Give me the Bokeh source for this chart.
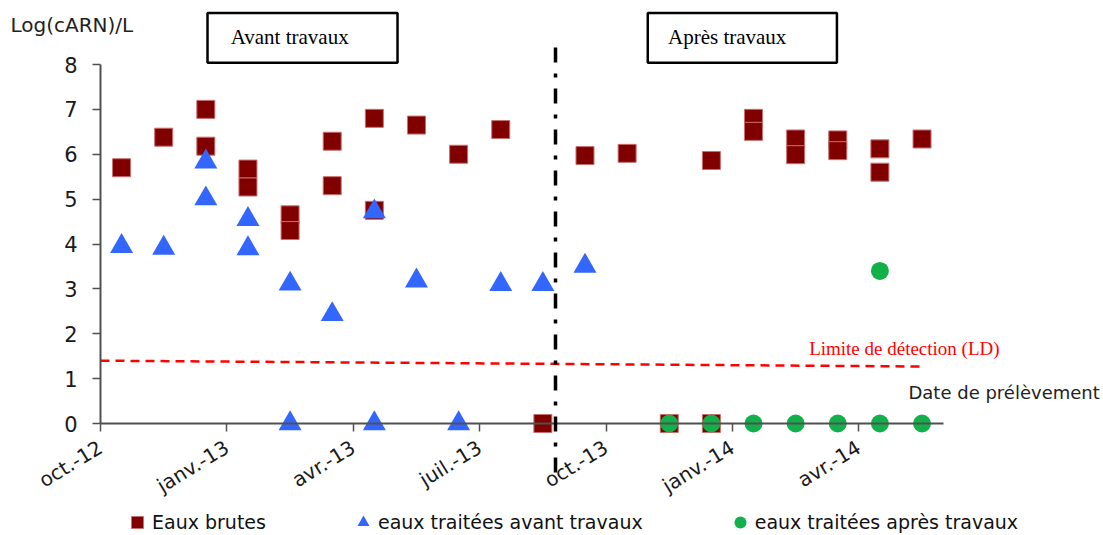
from bokeh.plotting import figure
from bokeh.models import (Range1d, FixedTicker, Legend, LegendItem, Label, Arrow,
                          ColumnDataSource)
from bokeh.embed import file_html
from bokeh.resources import INLINE
from bokeh.core.properties import value

# ---------------- data ----------------
brutes_mois = ["2012-10", "2012-11", "2012-12", "2012-12", "2013-01", "2013-01",
               "2013-02", "2013-02", "2013-03", "2013-03", "2013-04", "2013-04",
               "2013-05", "2013-06", "2013-07", "2013-08", "2013-09", "2013-10",
               "2013-11", "2013-12", "2013-12", "2014-01", "2014-01", "2014-02",
               "2014-02", "2014-03", "2014-03", "2014-04", "2014-04", "2014-05"]
brutes_val = [5.70, 6.38, 7.00, 6.18, 5.67, 5.27,
              4.65, 4.30, 6.29, 5.30, 6.80, 4.75,
              6.65, 6.00, 6.55, 0.00, 5.97, 6.02,
              0.00, 5.86, 0.00, 6.80, 6.51, 6.34,
              5.99, 6.32, 6.08, 6.12, 5.60, 6.34]

avant_mois = ["2012-10", "2012-11", "2012-12", "2012-12", "2013-01", "2013-01",
              "2013-02", "2013-02", "2013-03", "2013-04", "2013-04", "2013-05",
              "2013-06", "2013-07", "2013-08", "2013-09"]
avant_val = [3.95, 3.91, 5.83, 5.01, 4.55, 3.90,
             3.11, 0.00, 2.43, 4.72, 0.00, 3.18,
             0.00, 3.10, 3.10, 3.51]

apres_mois = ["2013-11", "2013-12", "2014-01", "2014-02", "2014-03", "2014-04",
              "2014-04", "2014-05"]
apres_val = [0.00, 0.00, 0.00, 0.00, 0.00, 0.00, 3.40, 0.00]

tick_mois = ["2012-10", "2013-01", "2013-04", "2013-07", "2013-10", "2014-01", "2014-04"]
tick_labels = ["oct.-12", "janv.-13", "avr.-13", "juil.-13", "oct.-13", "janv.-14", "avr.-14"]

# detection limit line (month index, log value)
ld_x = [0.0, 19.5]
ld_val = [1.40, 1.27]

# date of the works (month index)
date_travaux = 10.8


def mois_idx(s):
    a, m = s.split("-")
    return (int(a) - 2012) * 12 + int(m) - 10


# ---------------- layout constants ----------------
W, H = 1103, 535
PX_X = 42.13          # px per month
PX_Y = 44.875         # px per log unit
X0_PX, Y0_PX = 100, 423   # pixel position of (month 0, value 0)
X_START = -X0_PX / PX_X
X_END = (W - X0_PX) / PX_X
Y_END = Y0_PX / PX_Y
Y_START = -(H - Y0_PX) / PX_Y

p = figure(width=W, height=H, output_backend="svg", toolbar_location=None,
           x_range=Range1d(X_START, X_END), y_range=Range1d(Y_START, Y_END),
           min_border_left=0, min_border_right=0, min_border_top=0,
           min_border_bottom=0, title=None)
p.outline_line_color = None
p.xgrid.visible = False
p.ygrid.visible = False
p.background_fill_color = "white"
p.border_fill_color = "white"

AXC = "#505050"
FONT = "DejaVu Sans"

# x axis drawn at y = 0
xa = p.xaxis[0]
xa.fixed_location = 0
xa.bounds = (0, 20)
xa.ticker = FixedTicker(ticks=[mois_idx(m) for m in tick_mois])
xa.major_label_overrides = {mois_idx(m): lab for m, lab in zip(tick_mois, tick_labels)}
xa.major_label_orientation = 0.55
xa.major_label_text_font = FONT
xa.major_label_text_font_size = "20px"
xa.major_label_text_color = "#1a1a1a"
xa.major_label_standoff = 14
xa.axis_line_color = AXC
xa.axis_line_width = 2
xa.major_tick_line_color = AXC
xa.major_tick_line_width = 1.5
xa.major_tick_out = 8
xa.major_tick_in = 0
xa.minor_tick_out = 0
xa.minor_tick_in = 0

# y axis drawn at month 0
ya = p.yaxis[0]
ya.fixed_location = 0
ya.bounds = (0, 8)
ya.ticker = FixedTicker(ticks=list(range(0, 9)))
ya.major_label_text_font = FONT
ya.major_label_text_font_size = "21px"
ya.major_label_text_color = "#1a1a1a"
ya.major_label_standoff = 15
ya.axis_line_color = AXC
ya.axis_line_width = 2
ya.major_tick_line_color = AXC
ya.major_tick_line_width = 1.5
ya.major_tick_out = 8
ya.major_tick_in = 0
ya.minor_tick_out = 0
ya.minor_tick_in = 0

# boxes above the plot
p.quad(left=[2.54, 12.99], right=[7.05, 17.48], bottom=[8.04, 8.04], top=[9.15, 9.15],
       fill_color="white", line_color="black", line_width=2.5)
p.text(x=[3.09, 13.47], y=[8.62, 8.62], text=["Avant travaux", "Après travaux"],
       text_font=value("Liberation Serif"), text_font_size="21px",
       text_baseline="middle", text_align="left", text_color="black")

# detection limit
p.line(ld_x, ld_val, line_color="#FF0000", line_width=2.5, line_dash="9 6")
p.text(x=[16.82], y=[1.67], text=["Limite de détection (LD)"],
       text_font=value("Liberation Serif"), text_font_size="19px",
       text_baseline="middle", text_align="left", text_color="#FF0000")

# works date
p.add_layout(Arrow(end=None, x_start=date_travaux, y_start=-1.09, x_end=date_travaux,
                   y_end=8.6, line_color="black", line_width=3.5,
                   line_dash="15 11 4 11"))

# series
src_b = ColumnDataSource(dict(x=[mois_idx(m) + 0.5 for m in brutes_mois], y=brutes_val))
src_a = ColumnDataSource(dict(x=[mois_idx(m) + 0.5 for m in avant_mois], y=avant_val))
src_p = ColumnDataSource(dict(x=[mois_idx(m) + 0.5 for m in apres_mois], y=apres_val))

r_b = p.scatter("x", "y", source=src_b, marker="square", size=18,
                fill_color="#800000", line_color="#C87070", line_width=1)
r_a = p.scatter("x", "y", source=src_a, marker="triangle", size=23,
                fill_color="#3366FF", line_color=None)
r_p = p.scatter("x", "y", source=src_p, marker="circle", size=18,
                fill_color="#12B04B", line_color=None)

# free texts
p.add_layout(Label(x=-2.136, y=8.87, text="Log(cARN)/L", text_font=FONT,
                   text_font_size="20px", text_color="#222222",
                   text_baseline="middle", text_align="left"))
p.add_layout(Label(x=23.72, y=0.69, text="Date de prélèvement", text_font=FONT,
                   text_font_size="18px", text_color="#222222",
                   text_baseline="middle", text_align="right"))

legend = Legend(items=[LegendItem(label="Eaux brutes", renderers=[r_b]),
                       LegendItem(label="eaux traitées avant travaux", renderers=[r_a]),
                       LegendItem(label="eaux traitées après travaux", renderers=[r_p])],
                orientation="horizontal", location=(122, -2),
                glyph_width=30, glyph_height=30, label_standoff=0, spacing=82,
                padding=0, margin=0, border_line_color=None, background_fill_alpha=0,
                label_text_font=FONT, label_text_font_size="19px",
                label_text_color="#111111")
p.add_layout(legend)

open("out.html", "w").write(file_html(p, INLINE))
